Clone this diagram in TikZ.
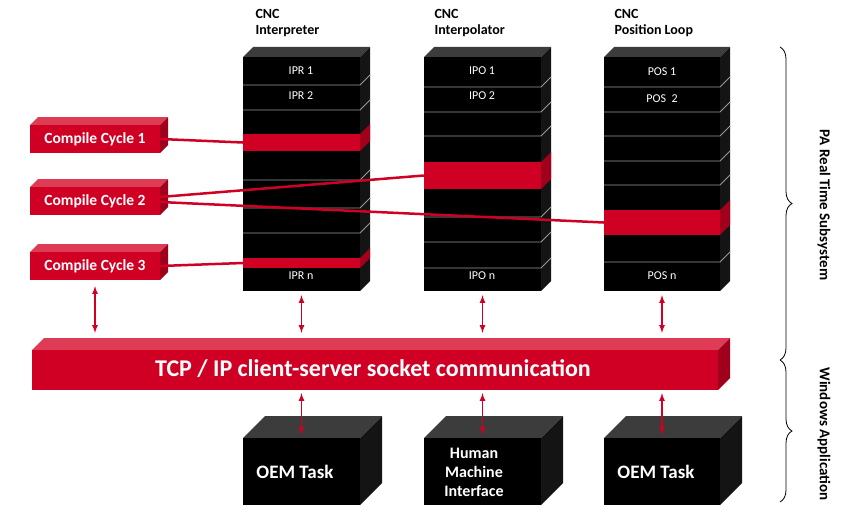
\documentclass[tikz,border=0pt]{standalone}
\usepackage{fontspec}
\setmainfont{Carlito}
\usetikzlibrary{fit,decorations.pathreplacing}
\definecolor{SysRed}{RGB}{208, 0, 36}
\definecolor{SysRedTop}{RGB}{222, 60, 85}
\definecolor{SysRedSide}{RGB}{160, 0, 28}
\colorlet{BlkFront}{black}
\definecolor{BlkTop}{RGB}{60, 60, 60}
\definecolor{BlkSide}{RGB}{20, 20, 20}
\colorlet{RedFront}{SysRed}
\colorlet{RedTop}{SysRedTop}
\colorlet{RedSide}{SysRedSide}
\tikzstyle{wire} = [SysRed, line width=2.5pt]
\tikzstyle{dbl} = [SysRed, line width=1.6pt, <->, >=latex]
\tikzstyle{rowline} = [gray!80, line width=0.8pt]
\tikzstyle{rowlabel} = [white, font=\fontsize{12}{13}\selectfont]
\tikzstyle{head} = [anchor=west, align=left, font=\bfseries\fontsize{14}{16}\selectfont]
\tikzstyle{ccl} = [white, font=\bfseries\fontsize{15.5}{17}\selectfont]

% solid block: name, x1, y1, x2, y2, depth, colour set
\newcommand\solid[7]{%
  \fill[#7Top] (#2,#3) -- ++(#6,-#6) -- (#4+#6,#3-#6) -- (#4,#3) -- cycle;
  \fill[#7Side] (#4,#3) -- ++(#6,-#6) -- (#4+#6,#5-#6) -- (#4,#5) -- cycle;
  \fill[#7Front] (#2,#3) rectangle (#4,#5);
  \coordinate (#1-nw) at (#2,#3);
  \coordinate (#1-se) at (#4,#5);
  \node[inner sep=0, fit=(#1-nw)(#1-se)] (#1) {};
}
% slice of a stack: name, x1, y1, x2, y2, depth
\newcommand\band[6]{%
  \fill[RedSide] (#4,#3) -- ++(#6,-#6) -- (#4+#6,#5-#6) -- (#4,#5) -- cycle;
  \fill[RedFront] (#2,#3) rectangle (#4,#5);
  \coordinate (#1-nw) at (#2,#3);
  \coordinate (#1-se) at (#4,#5);
  \node[inner sep=0, fit=(#1-nw)(#1-se)] (#1) {};
}

\begin{document}
\begin{tikzpicture}[x=1pt, y=-1pt]
\useasboundingbox (0,0) rectangle (856,519);

% Stacks
\solid{ipr}{243}{57}{360}{291}{10}{Blk}
\solid{ipo}{424}{57}{541}{291}{10}{Blk}
\solid{pos}{604}{57}{720}{291}{10}{Blk}
\foreach \y in {85,110,180,208,233}
  \draw[rowline] (243,\y) -- (360,\y) -- ++(10,-10);
\foreach \y in {87,112,136,217,242,268}
  \draw[rowline] (424,\y) -- (541,\y) -- ++(10,-10);
\foreach \y in {87,112,136,161,185,262}
  \draw[rowline] (604,\y) -- (720,\y) -- ++(10,-10);

% Red bands
\band{band1}{243}{134}{360}{151}{10}
\band{band3}{243}{258}{360}{268}{10}
\band{band2}{424}{162}{541}{189}{10}
\band{band4}{604}{210}{720}{235}{10}

% Row labels
\node[rowlabel] at (301,71) {IPR 1};
\node[rowlabel] at (301,96) {IPR 2};
\node[rowlabel] at (301,276) {IPR n};
\node[rowlabel] at (482,71) {IPO 1};
\node[rowlabel] at (482,96) {IPO 2};
\node[rowlabel] at (482,276) {IPO n};
\node[rowlabel] at (662,72) {POS 1};
\node[rowlabel] at (662,99) {POS\ \ 2};
\node[rowlabel] at (662,276) {POS n};

% Headers
\node[head] at (252,23) {CNC\\Interpreter};
\node[head] at (431,23) {CNC\\Interpolator};
\node[head] at (611,23) {CNC\\Position Loop};

% Compile cycles
\solid{cc1}{30}{125}{160}{153}{8}{Red}
\solid{cc2}{30}{187}{160}{215}{8}{Red}
\solid{cc3}{30}{252}{160}{280}{8}{Red}
\node[ccl] at (cc1) {Compile Cycle 1};
\node[ccl] at (cc2) {Compile Cycle 2};
\node[ccl] at (cc3) {Compile Cycle 3};

\draw[wire] (cc1.east) -- (band1.west);
\draw[wire] ([yshift=4pt]cc2.east) -- (band2.west);
\draw[wire] ([yshift=-1pt]cc2.east) -- (band4.west);
\draw[wire] (cc3.east) -- (band3.west);

% Communication bar
\solid{tcp}{32}{350}{718}{390}{12}{Red}
\node[white, font=\bfseries\fontsize{24}{28}\selectfont] at (373,369) {TCP / IP client-server socket communication};

% Windows tasks
\solid{oem1}{243}{438}{360}{505}{22}{Blk}
\solid{hmi}{424}{438}{541}{505}{22}{Blk}
\solid{oem2}{604}{438}{720}{505}{22}{Blk}
\node[white, font=\bfseries\fontsize{19}{22}\selectfont] at (295,472) {OEM Task};
\node[white, align=center, font=\bfseries\fontsize{16}{19}\selectfont] at (474,472) {Human\\Machine\\Interface};
\node[white, font=\bfseries\fontsize{19}{22}\selectfont] at (656,472) {OEM Task};

% Links
\draw[dbl] ([yshift=-6pt]cc3.south) -- ([yshift=17pt]cc3.south |- tcp.north);
\foreach \n in {ipr,ipo,pos}
  \draw[dbl] ([yshift=-4pt]\n.south) -- ([yshift=17pt]\n.south |- tcp.north);
\foreach \n in {oem1,hmi,oem2}
  \draw[dbl] ([yshift=-3pt]\n.north |- tcp.south) -- ([yshift=3pt]\n.north);

% Subsystems
\draw[thick, decorate, decoration={brace, amplitude=12pt}] (780,47) -- (780,360);
\draw[thick, decorate, decoration={brace, amplitude=12pt}] (780,360) -- (780,502);
\node[rotate=-90, font=\bfseries\fontsize{15}{17}\selectfont] at (824,205) {PA Real Time Subsystem};
\node[rotate=-90, font=\bfseries\fontsize{15}{17}\selectfont] at (824,434) {Windows Application};
\end{tikzpicture}
\end{document}
